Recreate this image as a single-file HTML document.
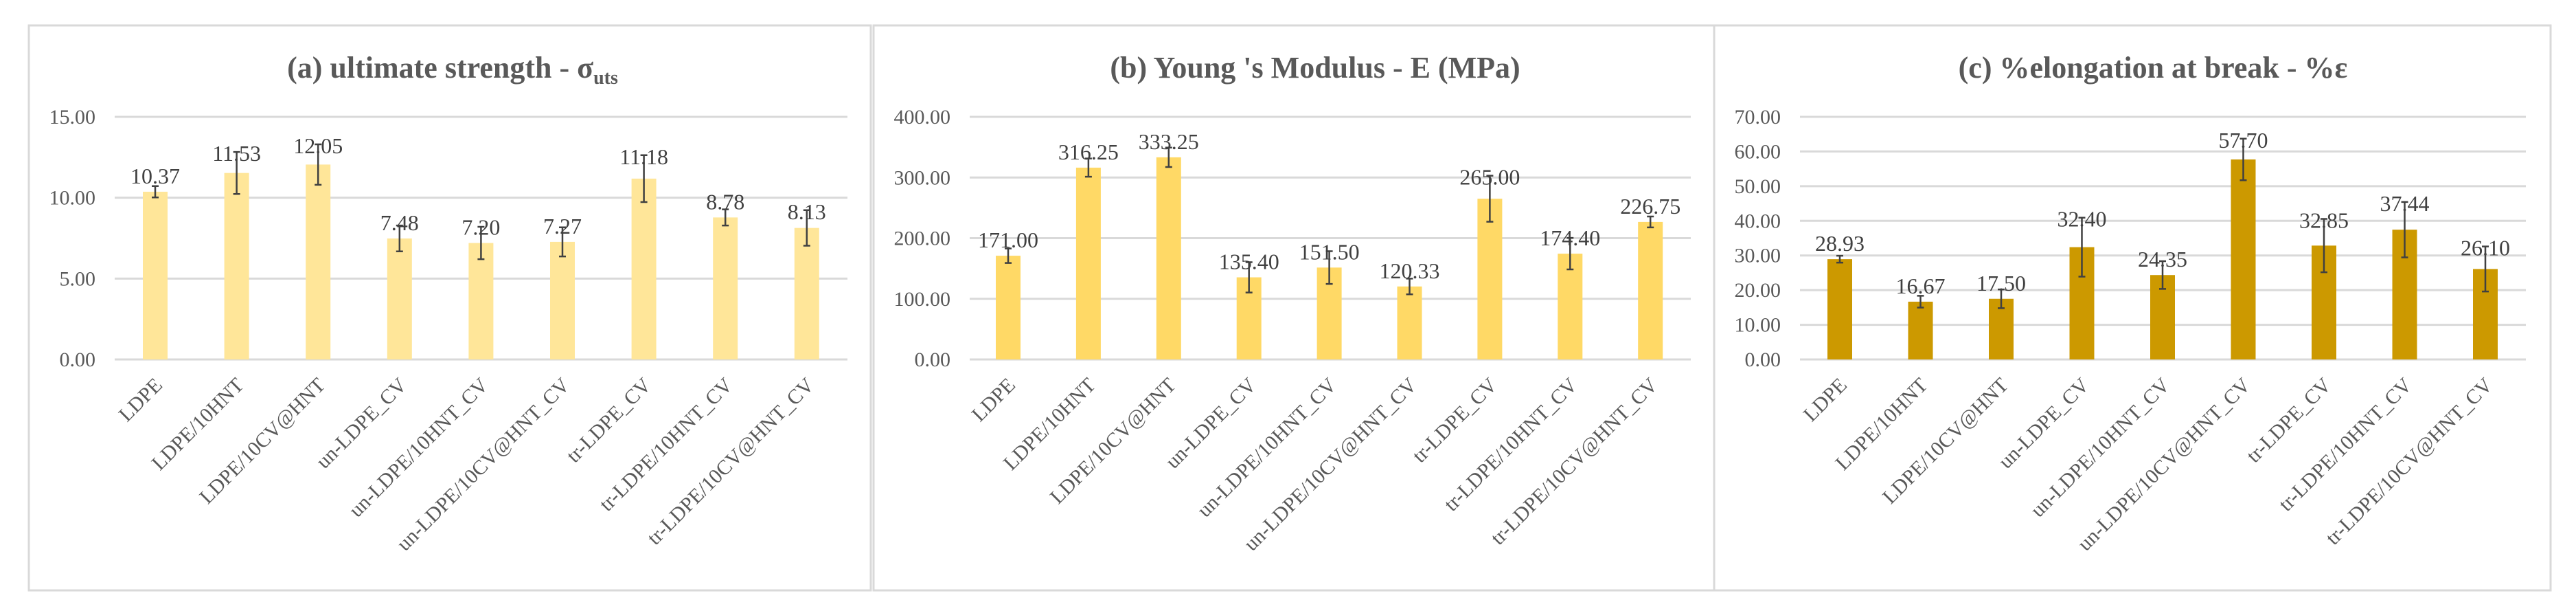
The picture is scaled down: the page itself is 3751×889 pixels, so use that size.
<!DOCTYPE html>
<html><head><meta charset="utf-8"><style>
body{margin:0;background:#fff;}
svg{display:block;font-family:"Liberation Serif",serif;}
</style></head><body>
<svg id="chart" width="3751" height="889" viewBox="0 0 3751 889" xmlns="http://www.w3.org/2000/svg"></svg>
<script>
const categories = ["LDPE","LDPE/10HNT","LDPE/10CV@HNT","un-LDPE_CV","un-LDPE/10HNT_CV","un-LDPE/10CV@HNT_CV","tr-LDPE_CV","tr-LDPE/10HNT_CV","tr-LDPE/10CV@HNT_CV"];
const strengthValues = [10.37,11.53,12.05,7.48,7.20,7.27,11.18,8.78,8.13];
const strengthErrors = [0.35,1.3,1.25,0.8,1.0,0.9,1.45,0.5,1.1];
const strengthTicks = [0,5,10,15];
const modulusValues = [171.00,316.25,333.25,135.40,151.50,120.33,265.00,174.40,226.75];
const modulusErrors = [12,15,16,25,27,13,38,26,9];
const modulusTicks = [0,100,200,300,400];
const elongValues = [28.93,16.67,17.50,32.40,24.35,57.70,32.85,37.44,26.10];
const elongErrors = [1,1.7,2.7,8.5,4,6,7.7,8,6.5];
const elongTicks = [0,10,20,30,40,50,60,70];

const NS="http://www.w3.org/2000/svg";
const svg=document.getElementById('chart');
function mk(tag,attrs,parent){const e=document.createElementNS(NS,tag);for(const k in attrs)e.setAttribute(k,attrs[k]);(parent||svg).appendChild(e);return e;}

const panels=[
 {id:'a',box:[42,37,1226,822],plot:[167,1234],first:226,step:118.6,max:15,ticks:strengthTicks,vals:strengthValues,errs:strengthErrors,color:'#FFE699',title:'(a) ultimate strength - σ',sub:'uts',tx:659},
 {id:'b',box:[1272,37,1224,822],plot:[1412,2462],first:1468,step:116.9,max:400,ticks:modulusTicks,vals:modulusValues,errs:modulusErrors,color:'#FFD966',title:"(b) Young 's Modulus - E (MPa)",sub:'',tx:1915},
 {id:'c',box:[2496,37,1218,822],plot:[2621,3678],first:2679,step:117.5,max:70,ticks:elongTicks,vals:elongValues,errs:elongErrors,color:'#CC9900',title:'(c) %elongation at break - %ε',sub:'',tx:3135}
];
const y0=523,yTop=170;
panels.forEach(p=>{
 const g=mk('g',{});
 
 
 const r=mk('rect',{x:p.box[0],y:p.box[1],width:p.box[2],height:p.box[3],fill:'#fff',stroke:'#d9d9d9','stroke-width':3},g);
 
 
 const t=mk('text',{x:p.tx,y:113,'text-anchor':'middle','font-size':44,'font-weight':'bold',fill:'#595959'},g);
 
 
 t.textContent=p.title;
 if(p.sub){const s=mk('tspan',{'font-size':28,dy:9},t);s.textContent=p.sub;}
 const ys=v=>y0-(v/p.max)*(y0-yTop);
 p.ticks.forEach(tv=>{
  const l=mk('line',{x1:p.plot[0],x2:p.plot[1],y1:ys(tv),y2:ys(tv),stroke:'#d9d9d9','stroke-width':3},g);
  
  
  const tl=mk('text',{x:p.plot[0]-28,y:ys(tv)+10,'text-anchor':'end','font-size':30,fill:'#595959'},g);
  
  
  tl.textContent=tv.toFixed(2);
 });
 p.vals.forEach((v,i)=>{
  const cx=p.first+i*p.step,bw=36;
  const b=mk('rect',{x:cx-bw/2,y:ys(v),width:bw,height:y0-ys(v),fill:p.color},g);
  
  
  const e=p.errs[i],yt=ys(v+e),yb=ys(v-e);
  const eb=mk('path',{d:`M${cx},${yt}V${yb}M${cx-5},${yt}H${cx+5}M${cx-5},${yb}H${cx+5}`,stroke:'#404040','stroke-width':2.5,fill:'none'},g);
  
  
  const vl=mk('text',{x:cx,y:Math.min(ys(v),yt+25)-12,'text-anchor':'middle','font-size':32,fill:'#404040'},g);
  
  
  vl.textContent=v.toFixed(2);
  const cl=mk('text',{x:cx+12,y:562,'text-anchor':'end','font-size':30,fill:'#595959',transform:`rotate(-45 ${cx+12} 562)`},g);
  
  
  cl.textContent=categories[i];
 });
});
</script>
</body></html>
